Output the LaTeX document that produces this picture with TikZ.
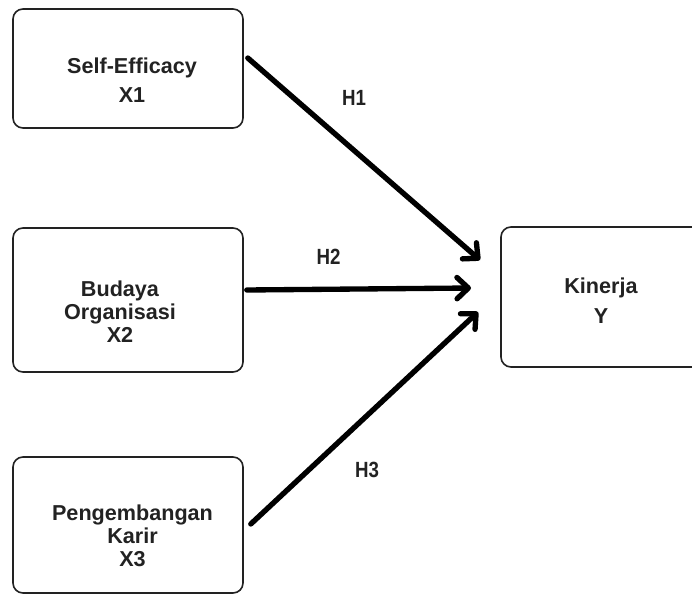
\documentclass[tikz,border=0pt]{standalone}
\usepackage{fontspec}
\setmainfont{Liberation Sans}
\newfontfamily\hfont[FakeStretch=0.85]{Liberation Sans}
\usetikzlibrary{arrows.meta}
\definecolor{boxline}{HTML}{222222}
\definecolor{txt}{HTML}{222222}
\tikzset{
  box/.style={draw=boxline, line width=1.2pt, rounded corners=7.5pt, inner sep=0pt, minimum width=172.5pt},
  lbl/.style={inner sep=0pt, anchor=base, align=center, text=txt, font=\bfseries\fontsize{16.2}{17}\selectfont},
  hyp/.style={inner sep=0pt, anchor=base, text=txt, font=\hfont\bfseries\fontsize{16.5}{18}\selectfont},
  arr/.style={line width=4pt, line cap=round, -{Straight Barb[length=8.5pt, width=16pt, line cap=round, line join=round]}}
}
\begin{document}
\begin{tikzpicture}[x=0.75pt, y=-0.75pt]
\useasboundingbox (0,0) rectangle (692,595);
\clip (0,0) rectangle (692,595);
% boxes
\node[box, minimum height=89.25pt] (x1) at (128,68.5) {};
\node[box, minimum height=108pt] (x2) at (128,300) {};
\node[box, minimum height=102pt] (x3) at (128,525) {};
\node[box, minimum height=105pt] (y) at (616,297) {};
% texts (anchor = baseline of last line)
\node[lbl] (tx1) at (132,103) {Self-Efficacy\\[5pt]X1};
\node[lbl] (tx2) at (120,342) {Budaya\\Organisasi\\X2};
\node[lbl] (tx3) at (132.5,566) {Pengembangan\\Karir\\X3};
\node[lbl] (ty) at (601,323) {Kinerja\\[5pt]Y};
% arrow tips
\coordinate (t1) at (480,260);
\coordinate (t2) at (471,288);
\coordinate (t3) at (478,312);
\draw[arr] ([shift={(4,-10.5)}]x1.east) -- (t1);
\draw[arr] ([shift={(3,-10)}]x2.east) -- (t2);
\draw[arr] ([shift={(7,-1)}]x3.east) -- (t3);
% hypothesis labels
\node[hyp] (h1) at (354,106) {H1};
\node[hyp] (h2) at (328.5,264) {H2};
\node[hyp] (h3) at (367,477) {H3};
\end{tikzpicture}
\end{document}
